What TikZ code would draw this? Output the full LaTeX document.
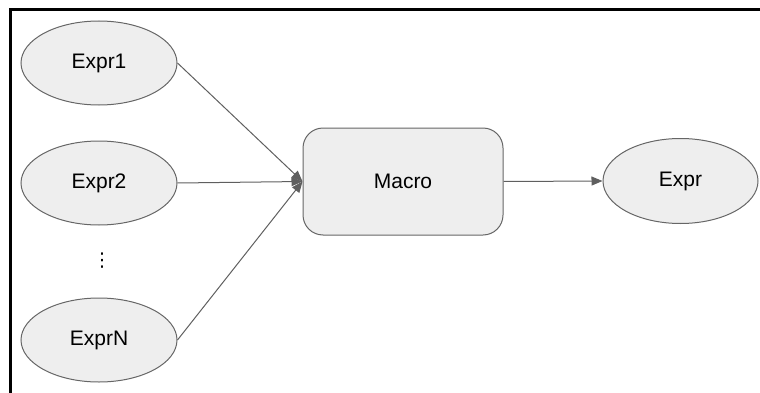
\documentclass[tikz,border=0pt]{standalone}
\usepackage{fontspec}
\setmainfont{Liberation Sans}
\newfontfamily\dejavu{DejaVu Sans}
\usetikzlibrary{shapes.geometric,arrows.meta}
\definecolor{fillg}{HTML}{EEEEEE}
\definecolor{edgeg}{HTML}{666666}
\definecolor{arrg}{HTML}{5F5F5F}
\tikzset{
  lbl/.style={font=\fontsize{21}{25}\selectfont},
  exprnode/.style={lbl,ellipse,draw=edgeg,fill=fillg,line width=1pt,minimum width=156pt,minimum height=84pt,inner sep=0pt},
  macronode/.style={lbl,rectangle,rounded corners=20pt,draw=edgeg,fill=fillg,line width=1pt,minimum width=200pt,minimum height=107pt,inner sep=0pt},
  conn/.style={draw=arrg,line width=1pt,-{Triangle[length=11pt,width=9pt]}},
}
\begin{document}
\begin{tikzpicture}[x=1pt,y=1pt]
\useasboundingbox (0,0) rectangle (760,392);
\draw[line width=3pt,line cap=rect] (760,382) -- (10.5,382) -- (10.5,0);
\node[exprnode] (e1) at (99,329) {Expr1};
\node[exprnode] (e2) at (99,209) {Expr2};
\node[font=\dejavu\fontsize{19}{21}\selectfont,inner sep=0pt] (dots) at (102,131) {⋮};
\node[exprnode] (en) at (99,52) {ExprN};
\node[macronode] (m) at (403,210.5) {Macro};
\node[exprnode,minimum width=155pt,minimum height=85pt] (out) at (680.5,211) {Expr};
\draw[conn] (e1.east) -- (m.west);
\draw[conn] (e2.east) -- (m.west);
\draw[conn] (en.east) -- (m.west);
\draw[conn] (m.east) -- (out.west);
\end{tikzpicture}
\end{document}
